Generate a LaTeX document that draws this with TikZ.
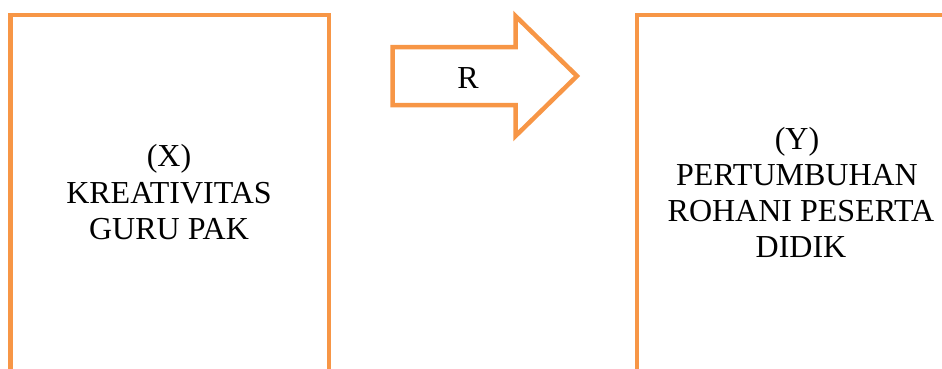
\documentclass[tikz,border=0pt]{standalone}
\usepackage{fontspec}
\setmainfont{Liberation Serif}
\definecolor{boxorange}{RGB}{247,150,70}
\begin{document}
\begin{tikzpicture}[x=1pt,y=-1pt,
  frame/.style={draw=boxorange,line width=4.5pt,line join=miter},
  txt/.style={anchor=base,inner sep=0pt,font=\fontsize{32}{36}\selectfont},
  rtxt/.style={anchor=base,inner sep=0pt,font=\fontsize{32}{36}\selectfont}]
\useasboundingbox (0,0) rectangle (942,368);
% left box
\draw[frame] (10.5,400) -- (10.5,15) -- (329,15) -- (329,400);
% right box
\draw[frame] (637,400) -- (637,15) -- (980,15);
% arrow
\draw[frame] (392.5,47) -- (515.5,47) -- (515.5,16) -- (577,76) -- (515.5,136) -- (515.5,105) -- (392.5,105) -- cycle;
\node[rtxt] (r) at (468,88) {R};
% left text
\node[txt] (x1) at (169,166) {(X)};
\node[txt] (x2) at (169,203) {KREATIVITAS};
\node[txt] (x3) at (169,239) {GURU PAK};
% right text
\node[txt] (y1) at (797,149) {(Y)};
\node[txt] (y2) at (797,185) {PERTUMBUHAN};
\node[txt] (y3) at (801,221) {ROHANI PESERTA};
\node[txt] (y4) at (801,257) {DIDIK};
\end{tikzpicture}
\end{document}
